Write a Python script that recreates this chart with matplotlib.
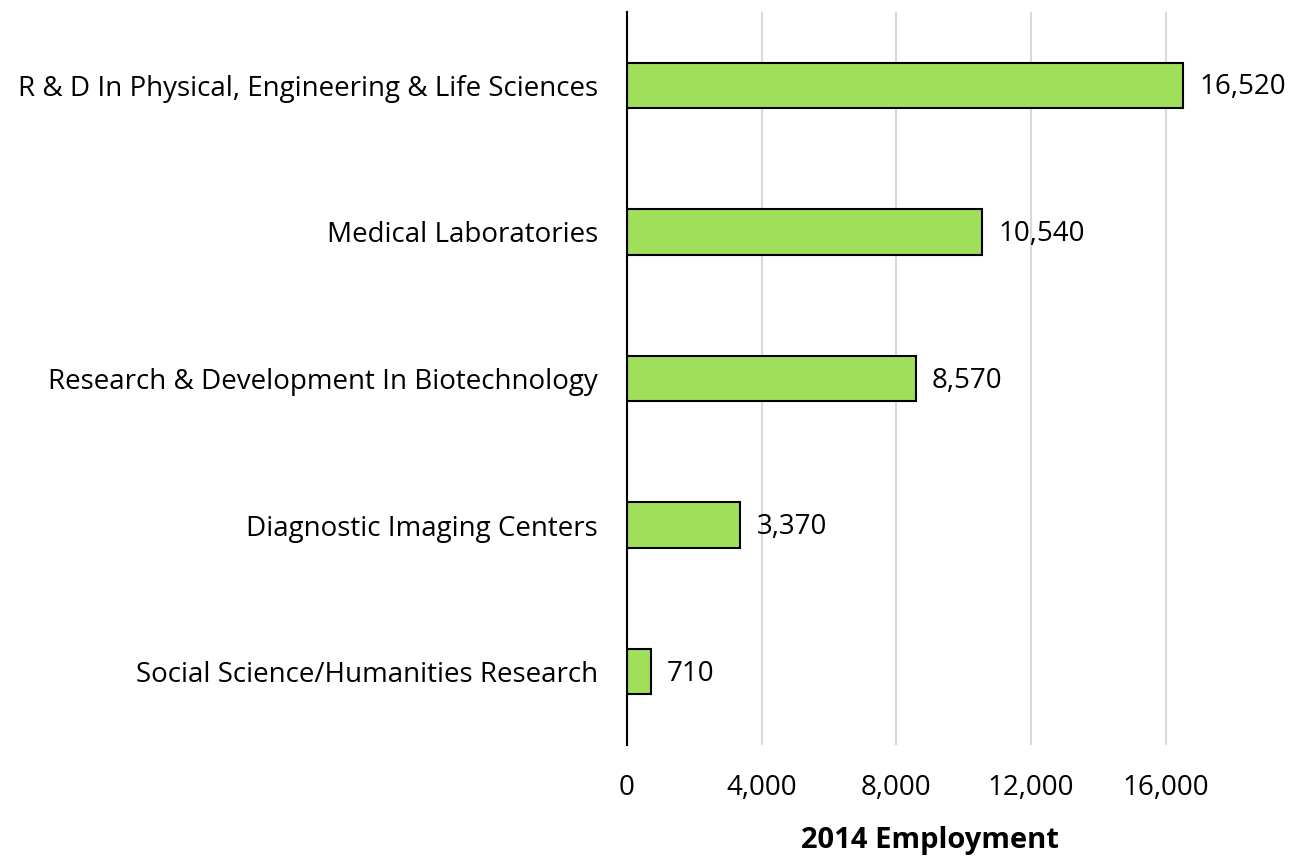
import matplotlib
matplotlib.use("Agg")
import matplotlib.pyplot as plt

# Datos
categorias = [
    "R & D In Physical, Engineering & Life Sciences",
    "Medical Laboratories",
    "Research & Development In Biotechnology",
    "Diagnostic Imaging Centers",
    "Social Science/Humanities Research",
]
empleo_2014 = [16520, 10540, 8570, 3370, 710]
ticks_x = [0, 4000, 8000, 12000, 16000]

plt.rcParams['font.family'] = ['Open Sans', 'DejaVu Sans']

fig = plt.figure(figsize=(12.9, 8.56), dpi=100)
ax = fig.add_axes([0.486, 0.1297, 0.47, 0.8563])

pos = list(range(len(categorias)))
ax.barh(pos, empleo_2014, height=0.31, color="#A0DF5A", edgecolor="black", linewidth=1.5, zorder=3)

# Etiquetas de valor
for p, v in zip(pos, empleo_2014):
    ax.text(v + 480, p + 0.015, f"{v:,}", va="center", ha="left", fontsize=20, color="black")

ax.set_ylim(len(categorias) - 0.5, -0.5)
ax.set_xlim(0, 18000)
ax.set_yticks(pos)
ax.set_yticklabels(categorias, fontsize=20)
ax.set_xticks(ticks_x)
ax.set_xticklabels([f"{t:,}" for t in ticks_x], fontsize=20)
ax.tick_params(axis="y", length=0, pad=21)
ax.tick_params(axis="x", length=0, pad=21)

ax.grid(axis="x", color="#D9D9D9", linewidth=1.5, zorder=0)
for s in ["top", "right", "bottom"]:
    ax.spines[s].set_visible(False)
ax.spines["left"].set_linewidth(1.5)
ax.spines["left"].set_zorder(4)

ax.set_xlabel("2014 Employment", fontsize=21, fontweight="bold", labelpad=17)

plt.savefig("out.png", dpi=100)
